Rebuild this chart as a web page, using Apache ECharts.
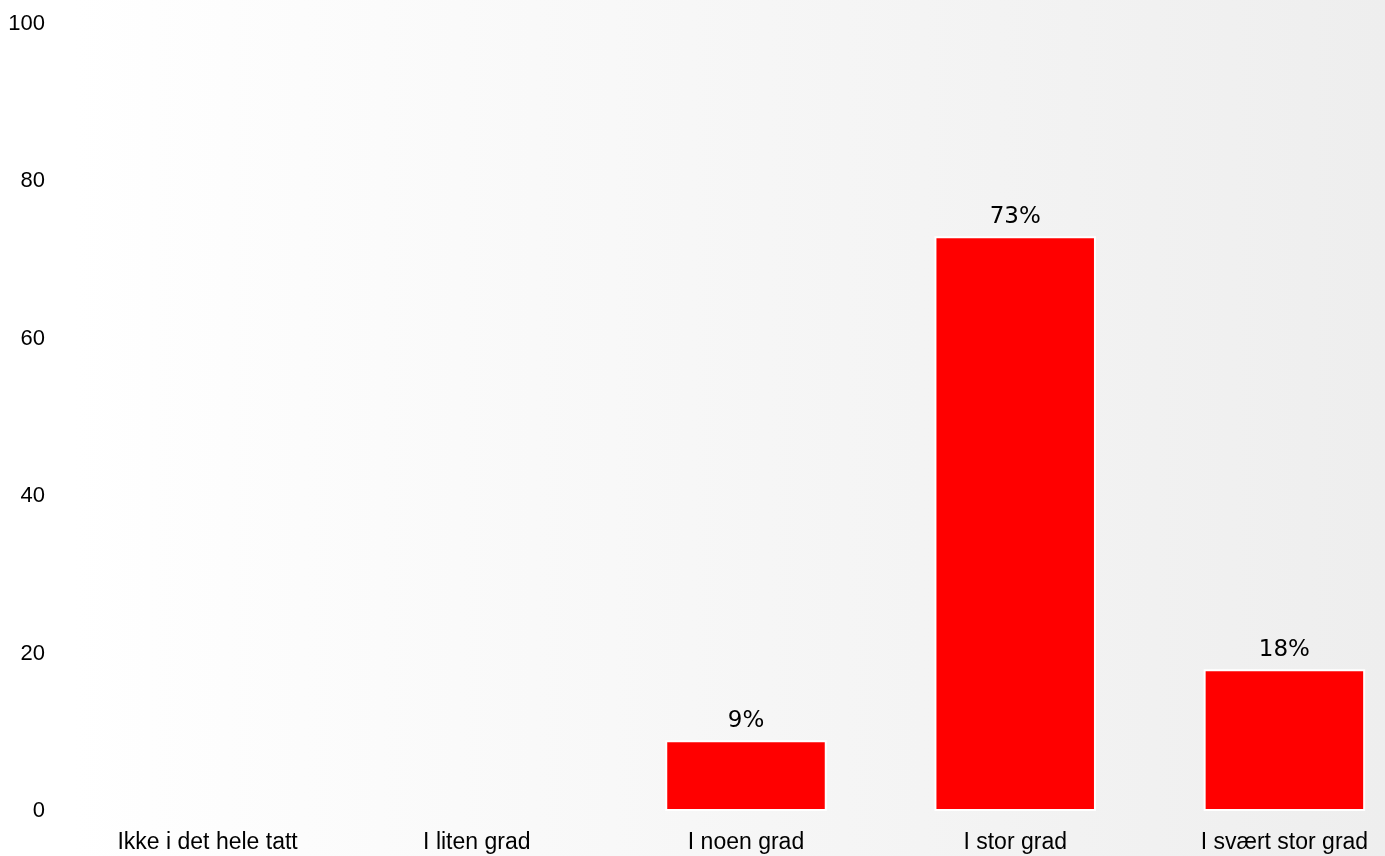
<!DOCTYPE html>
<html>
<head>
<meta charset="utf-8">
<script src="https://cdn.jsdelivr.net/npm/echarts@6/dist/echarts.min.js"></script>
<style>
  html, body { margin: 0; padding: 0; background: #fff; }
  #chart { width: 1385px; height: 856px; }
</style>
</head>
<body>
<div id="chart"></div>
<script>
// svarfordeling
var categories = ['Ikke i det hele tatt', 'I liten grad', 'I noen grad', 'I stor grad', 'I svært stor grad'];
var values = [0, 0, 9, 73, 18];
var yTicks = [0, 20, 40, 60, 80, 100];

var myChart = echarts.init(document.getElementById('chart'));

// bare stolper med verdi > 0 får etikett og kant
var barData = [];
for (var i = 0; i < values.length; i++) {
    barData.push({
        value: values[i],
        label: { show: values[i] > 0 },
        itemStyle: { borderWidth: values[i] > 0 ? 2 : 0 }
    });
}

var option = {
    animation: false,
    graphic: [
        {
            type: 'rect',
            z: -10,
            silent: true,
            shape: { x: 72, y: 0, width: 1313, height: 856 },
            style: {
                fill: new echarts.graphic.LinearGradient(0, 0, 1, 0, [
                    { offset: 0, color: '#ffffff' },
                    { offset: 1, color: '#eeeeee' }
                ])
            }
        }
    ],
    grid: {
        left: 73,
        top: 23.5,
        right: -34,
        bottom: 45,
        outerBoundsMode: 'none'
    },
    xAxis: {
        type: 'category',
        data: categories,
        axisLine: { show: false },
        axisTick: { show: false },
        axisLabel: {
            color: '#000',
            fontFamily: 'Liberation Sans, Arial, sans-serif',
            fontSize: 23,
            margin: 20,
            interval: 0
        }
    },
    yAxis: {
        type: 'value',
        min: yTicks[0],
        max: yTicks[yTicks.length - 1],
        interval: yTicks[1] - yTicks[0],
        axisLine: { show: false },
        axisTick: { show: false },
        splitLine: { show: false },
        axisLabel: {
            color: '#000',
            fontFamily: 'Liberation Sans, Arial, sans-serif',
            fontSize: 22,
            margin: 28
        }
    },
    series: [
        {
            type: 'bar',
            data: barData,
            barWidth: '60%',
            itemStyle: {
                color: '#ff0000',
                borderColor: '#ffffff',
                borderWidth: 2
            },
            label: {
                position: 'top',
                distance: 8,
                color: '#000',
                fontFamily: 'DejaVu Sans, Verdana, sans-serif',
                fontSize: 23,
                formatter: '{c}%'
            }
        }
    ]
};

myChart.setOption(option);
</script>
</body>
</html>
